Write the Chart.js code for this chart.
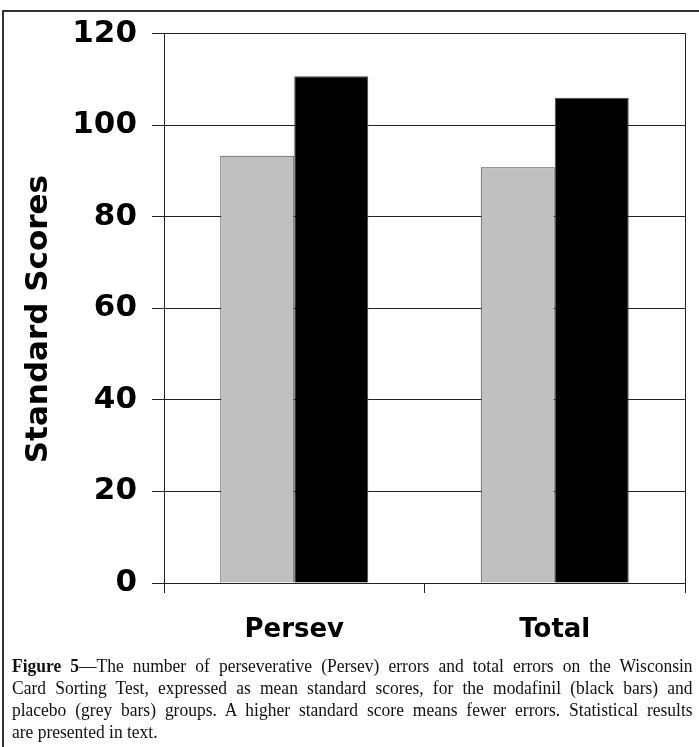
<!DOCTYPE html>
<html>
<head>
<meta charset="utf-8">
<script src="https://cdn.jsdelivr.net/npm/chart.js@4.4.1/dist/chart.umd.min.js"></script>
<style>
  html, body { margin: 0; padding: 0; background: #fff; overflow: hidden; }
  body { width: 699px; height: 747px; position: relative; }
  #frame { position: absolute; left: 2px; top: 10px; width: 800px; height: 800px;
           border-top: 2px solid #333; border-left: 2px solid #333; }
  #chart { position: absolute; left: 0; top: 0; }
  /* the printed caption is a slightly condensed Times, hence the scaleX */
  #caption { position: absolute; left: 12px; top: 655px; width: 724px;
             transform: scaleX(0.94); transform-origin: 0 0;
             font-family: "Liberation Serif", "Times New Roman", serif; font-size: 18.6px;
             line-height: 22px; color: #111; }
  #caption div { text-align: justify; text-align-last: justify; white-space: nowrap; }
  #caption div.last { text-align-last: left; }
</style>
</head>
<body>
<div id="frame"></div>
<canvas id="chart" width="699" height="680"></canvas>
<div id="caption">
  <div><b>Figure 5</b>—The number of perseverative (Persev) errors and total errors on the Wisconsin</div>
  <div>Card Sorting Test, expressed as mean standard scores, for the modafinil (black bars) and</div>
  <div>placebo (grey bars) groups. A higher standard score means fewer errors. Statistical results</div>
  <div class="last">are presented in text.</div>
</div>
<script>
var categories = ['Persev', 'Total'];
var placebo = [93.3, 90.8];
var modafinil = [110.7, 106.0];
var yMin = 0;
var yMax = 120;
var yStep = 20;

var boldFont = function (size) {
    return { family: "'DejaVu Sans', Verdana, sans-serif", weight: 'bold', size: size };
};

var ctx = document.getElementById('chart').getContext('2d');
new Chart(ctx, {
    type: 'bar',
    data: {
        labels: categories,
        datasets: [{
            label: 'Placebo',
            data: placebo,
            backgroundColor: '#c0c0c0',
            borderColor: '#444',
            borderWidth: 1,
            categoryPercentage: 0.568,
            barPercentage: 1.0
        }, {
            label: 'Modafinil',
            data: modafinil,
            backgroundColor: '#000',
            borderColor: '#444',
            borderWidth: 1,
            categoryPercentage: 0.568,
            barPercentage: 1.0
        }]
    },
    options: {
        responsive: false,
        animation: false,
        layout: { padding: { top: 32, right: 14, left: 0, bottom: 0 } },
        plugins: {
            legend: { display: false },
            tooltip: { enabled: false }
        },
        scales: {
            x: {
                offset: true,
                grid: { offset: true, drawOnChartArea: false, tickLength: 10, color: '#222' },
                border: { display: true, color: '#222' },
                ticks: { font: boldFont(26), color: '#000', padding: 22, maxRotation: 0 },
                afterFit: function (s) { s.height = 97; }
            },
            y: {
                min: yMin,
                max: yMax,
                ticks: { stepSize: yStep, padding: 15, font: boldFont(31), color: '#000' },
                grid: { color: '#222', tickLength: 12 },
                border: { color: '#222' },
                title: {
                    display: true,
                    // trailing spaces push the rotated title a little lower, as in the print
                    text: 'Standard Scores\u00a0\u00a0',
                    font: boldFont(31),
                    color: '#000',
                    padding: { top: 20, bottom: 0 }
                },
                afterFit: function (s) { s.width = 164; }
            },
            y2: {
                position: 'right',
                min: yMin,
                max: yMax,
                ticks: { display: false },
                grid: { drawOnChartArea: false, drawTicks: false },
                border: { display: true, color: '#222' },
                afterFit: function (s) { s.width = 0; }
            }
        }
    }
});
</script>
</body>
</html>
